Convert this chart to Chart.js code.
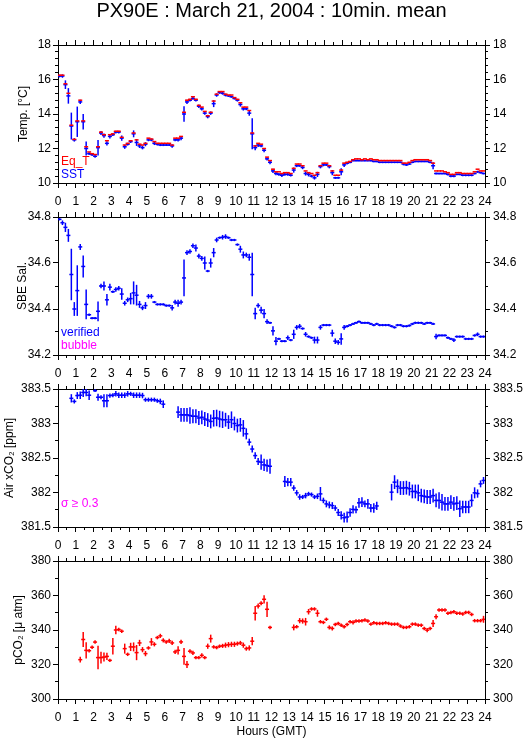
<!DOCTYPE html>
<html>
<head>
<meta charset="utf-8">
<script src="https://cdn.jsdelivr.net/npm/chart.js@4.4.1/dist/chart.umd.min.js"></script>
<style>
  body { margin: 0; background: #fff; width: 529px; height: 739px; overflow: hidden; position: relative; }
  canvas { position: absolute; left: 0; }
</style>
</head>
<body>
<canvas id="p1" width="529" height="208" style="top:0px"></canvas>
<canvas id="p2" width="529" height="178" style="top:202px"></canvas>
<canvas id="p3" width="529" height="178" style="top:374px"></canvas>
<canvas id="p4" width="529" height="193" style="top:546px"></canvas>
<script>
// 10 minute means, one row = one hour (6 samples)
const hours = Array.from({ length: 144 }, (_, i) => (i + 0.5) / 6);

const eqT = [
  16.25,16.25,15.75,15.2,13.35,12.53,  13.6,14.8,13.6,12.1,11.8,11.7,
  11.65,12.1,12.95,12.8,12.45,12.8,    12.85,13.0,13.0,12.65,12.2,12.3,
  12.45,12.9,12.5,12.25,12.2,12.3,     12.6,12.55,12.4,12.3,12.3,12.3,
  12.3,12.3,12.2,12.6,12.6,12.7,       14.1,14.8,14.85,15.0,14.85,14.5,
  14.4,14.15,13.9,14.1,14.75,15.15,    15.3,15.3,15.15,15.1,15.1,14.95,
  14.85,14.65,14.4,14.4,14.2,12.9,     12.15,12.3,12.25,12.0,11.5,11.3,
  10.8,10.65,10.65,10.55,10.6,10.6,    10.55,10.85,11.1,11.1,11.0,10.7,
  10.6,10.55,10.45,10.6,11.0,11.15,    11.15,11.0,10.7,10.45,10.45,10.75,
  11.15,11.2,11.25,11.35,11.4,11.4,    11.35,11.4,11.35,11.4,11.35,11.35,
  11.3,11.3,11.3,11.3,11.3,11.3,       11.3,11.3,11.15,11.15,11.2,11.3,
  11.35,11.35,11.35,11.35,11.35,11.3,  11.15,10.7,10.7,10.7,10.65,10.6,
  10.5,10.5,10.6,10.6,10.55,10.55,     10.55,10.55,10.65,10.8,10.7,10.7
];
const sst = [
  16.2,16.2,15.7,15.05,13.3,12.5,      13.55,14.7,13.55,12.0,11.7,11.65,
  11.55,12.05,12.9,12.75,12.3,12.7,    12.8,12.95,12.95,12.6,12.1,12.25,
  12.4,12.85,12.35,12.15,12.05,12.25,  12.5,12.5,12.3,12.25,12.2,12.2,
  12.2,12.2,12.15,12.5,12.5,12.6,      14.0,14.7,14.8,14.9,14.8,14.45,
  14.3,14.05,13.85,14.05,14.6,15.1,    15.25,15.2,15.1,15.05,15.0,14.9,
  14.8,14.55,14.3,14.3,14.05,12.85,    12.05,12.2,12.15,11.9,11.4,11.2,
  10.7,10.55,10.5,10.45,10.5,10.5,     10.45,10.75,11.0,11.0,10.9,10.55,
  10.5,10.4,10.3,10.5,10.95,11.05,     11.05,10.95,10.6,10.3,10.3,10.65,
  11.05,11.15,11.2,11.3,11.3,11.3,     11.3,11.3,11.3,11.3,11.25,11.25,
  11.2,11.2,11.2,11.2,11.2,11.2,       11.2,11.2,11.1,11.05,11.1,11.2,
  11.25,11.25,11.25,11.25,11.25,11.2,  11.0,10.55,10.55,10.55,10.55,10.5,
  10.4,10.4,10.5,10.5,10.45,10.45,     10.45,10.45,10.55,10.65,10.6,10.55
];
const sstSd = [
  0.08,0.1,0.25,0.45,0.78,0.1,   0.88,0.12,0.45,0.4,0.08,0.08,
  0.08,0.45,0.12,0.12,0.12,0.12, 0.08,0.08,0.08,0.15,0.12,0.08,
  0.08,0.2,0.2,0.12,0.1,0.12,    0.08,0.08,0.1,0.08,0.06,0.06,
  0.06,0.06,0.1,0.08,0.1,0.12,   0.45,0.12,0.08,0.08,0.08,0.1,
  0.1,0.1,0.1,0.1,0.2,0.1,       0.08,0.08,0.08,0.06,0.06,0.06,
  0.08,0.12,0.1,0.08,0.15,0.9,   0.15,0.12,0.08,0.12,0.1,0.12,
  0.12,0.1,0.08,0.1,0.08,0.08,   0.08,0.15,0.08,0.06,0.1,0.12,
  0.12,0.08,0.1,0.15,0.1,0.08,   0.06,0.1,0.15,0.06,0.06,0.2,
  0.12,0.08,0.06,0.06,0.06,0.05, 0.05,0.05,0.05,0.05,0.05,0.05,
  0.05,0.05,0.05,0.05,0.05,0.05, 0.05,0.05,0.08,0.06,0.05,0.05,
  0.05,0.05,0.05,0.05,0.05,0.05, 0.2,0.06,0.05,0.05,0.05,0.06,
  0.06,0.06,0.05,0.05,0.06,0.06, 0.06,0.06,0.05,0.06,0.05,0.05
];

const sal = [
  34.79,34.775,34.755,34.72,34.55,34.40,     34.48,34.67,34.585,34.42,34.375,34.36,
  34.36,34.39,34.50,34.50,34.44,34.495,      34.475,34.485,34.49,34.465,34.425,34.44,
  34.445,34.47,34.46,34.42,34.405,34.415,    34.455,34.455,34.43,34.42,34.42,34.42,
  34.415,34.415,34.405,34.43,34.425,34.43,   34.535,34.645,34.65,34.675,34.665,34.63,
  34.62,34.60,34.565,34.60,34.645,34.70,     34.71,34.712,34.715,34.71,34.70,34.70,
  34.68,34.66,34.635,34.635,34.625,34.55,    34.38,34.415,34.395,34.38,34.345,34.34,
  34.305,34.26,34.27,34.26,34.26,34.275,     34.265,34.29,34.32,34.325,34.315,34.29,
  34.28,34.275,34.265,34.265,34.32,34.33,    34.33,34.33,34.295,34.26,34.255,34.27,
  34.32,34.325,34.33,34.335,34.34,34.345,    34.34,34.34,34.34,34.335,34.33,34.335,
  34.33,34.33,34.33,34.33,34.325,34.32,      34.33,34.33,34.325,34.325,34.328,34.335,
  34.34,34.34,34.34,34.335,34.34,34.34,      34.335,34.28,34.285,34.285,34.285,34.275,
  34.27,34.265,34.28,34.28,34.28,34.27,      34.27,34.27,34.285,34.29,34.28,34.28
];
const salSd = [
  0.005,0.01,0.02,0.028,0.112,0.03,    0.11,0.013,0.048,0.065,0.005,0.005,
  0.005,0.043,0.01,0.02,0.025,0.015,   0.005,0.01,0.01,0.025,0.01,0.01,
  0.025,0.05,0.045,0.015,0.01,0.015,   0.01,0.01,0.005,0.005,0.005,0.005,
  0.005,0.005,0.012,0.01,0.015,0.01,   0.08,0.01,0.01,0.01,0.015,0.01,
  0.01,0.028,0.005,0.02,0.02,0.01,     0.005,0.01,0.01,0.005,0.005,0.005,
  0.005,0.015,0.015,0.01,0.015,0.095,  0.025,0.01,0.015,0.02,0.01,0.005,
  0.02,0.018,0.005,0.005,0.005,0.01,   0.005,0.02,0.01,0.01,0.005,0.01,
  0.005,0.005,0.015,0.015,0.01,0.005,  0.005,0.005,0.015,0.012,0.01,0.025,
  0.01,0.005,0.005,0.005,0.005,0.005,  0.005,0.005,0.005,0.005,0.005,0.005,
  0.005,0.005,0.005,0.005,0.005,0.005, 0.005,0.005,0.005,0.005,0.005,0.005,
  0.005,0.005,0.005,0.005,0.005,0.005, 0.005,0.012,0.005,0.005,0.005,0.005,
  0.005,0.008,0.005,0.005,0.005,0.005, 0.005,0.005,0.005,0.008,0.005,0.005
];

const xco2 = [
  null,null,null,null,383.365,383.32,        383.405,383.41,383.45,383.45,383.41,null,
  383.475,383.38,383.38,383.33,383.33,383.405, 383.41,383.43,383.41,383.41,383.41,383.43,
  383.43,383.41,383.41,383.41,383.405,383.345, 383.345,383.345,383.345,383.33,383.32,383.28,
  null,null,null,null,383.165,383.125,       383.125,383.125,383.115,383.105,383.105,383.08,
  383.09,383.065,383.05,383.03,383.075,383.08, 383.065,383.055,383.055,383.02,383.055,383.0,
  382.97,382.98,382.93,382.85,382.73,382.63, 382.535,382.45,382.44,382.40,382.39,382.38,
  null,null,null,null,382.16,382.15,         382.15,382.065,381.995,381.935,381.935,381.955,
  381.98,381.97,381.935,381.945,381.98,381.885, 381.835,381.82,381.81,381.775,381.71,381.67,
  381.635,381.645,381.71,381.755,381.75,381.85, 381.86,381.835,381.835,381.775,381.775,381.805,
  null,null,null,null,382.005,382.15,        382.09,382.065,382.065,382.07,382.055,382.015,
  382.015,381.995,381.955,381.945,381.935,381.935, 381.955,381.885,381.885,381.86,381.835,381.835,
  381.86,381.835,381.845,381.765,381.79,381.79, 381.79,381.885,381.995,381.985,382.125,382.175
];
const xco2Sd = [
  0,0,0,0,0.06,0.03,           0.05,0.055,0.065,0.055,0.07,0,
  0.02,0.05,0.03,0.095,0.095,0.03, 0.03,0.04,0.04,0.04,0.04,0.04,
  0.03,0.04,0.04,0.04,0.04,0.03,   0.03,0.03,0.03,0.03,0.04,0.055,
  0,0,0,0,0.085,0.1,           0.1,0.1,0.12,0.1,0.1,0.1,
  0.1,0.1,0.1,0.1,0.12,0.12,   0.12,0.12,0.1,0.1,0.12,0.1,
  0.1,0.1,0.12,0.08,0.05,0.05, 0.05,0.05,0.11,0.09,0.09,0.11,
  0,0,0,0,0.08,0.06,           0.06,0.04,0.04,0.04,0.03,0.04,
  0.03,0.03,0.03,0.04,0.1,0.04, 0.05,0.05,0.05,0.04,0.05,0.06,
  0.07,0.08,0.06,0.06,0.05,0.07, 0.07,0.05,0.07,0.06,0.07,0.06,
  0,0,0,0,0.12,0.1,            0.1,0.1,0.1,0.1,0.1,0.1,
  0.1,0.12,0.1,0.1,0.1,0.1,    0.1,0.1,0.12,0.12,0.1,0.1,
  0.1,0.1,0.1,0.12,0.09,0.09,  0.09,0.09,0.08,0.06,0.05,0.05
];

const pco2 = [
  null,null,null,null,null,null,        null,322.8,334.5,328.2,328,330,
  333,324,324,324.3,324.7,322.4,        330.6,340,340.3,339.3,329.2,325.9,
  330.2,330.2,326.9,332.5,328.6,326.3,  329.6,333.1,331.7,335.6,336.6,334,
  333.1,333.7,332.5,327.3,328.2,333.1,  324.7,320,327.7,326.7,324,324,
  325.3,324,330.6,335,330.2,329.8,      330.6,330.8,331.2,331.5,331.7,331.7,
  332.1,332.5,331.2,329.2,329.6,333.5,  349.7,353.9,355.5,357.8,352,341.5,
  null,null,null,null,null,null,        null,341.5,341.9,345.4,345.2,344.8,
  350.6,352.2,352.2,349.7,344.8,344.4,  346.2,341.5,340.9,343.2,343.8,342.8,
  341.9,343.2,344.8,344.4,345.2,345.2,  345.4,345.8,345.2,343.4,344.2,343.8,
  343.8,343.8,344.2,343.8,343.4,343.4,  343.4,342.3,341.5,341.5,341.9,343.4,
  343.4,342.8,342.8,340.9,339.9,340.9,  343.8,347.7,351.6,351.6,351.6,349.7,
  350.1,350.6,349.7,349.7,349.3,350.2,  350.2,349,345.4,345.4,345.4,346.2
];
const pco2Sd = [
  0,0,0,0,0,0,             0,1.7,4.4,4.7,1,1,
  1,6.8,3.4,2.6,2.1,1,     4.8,2.4,1,1,2.9,1,
  2.4,2.6,4.4,1.8,1.5,1.5, 1,2.2,1.2,1,1.2,1.2,
  1,1.2,1.2,1.2,2.4,1.2,   4.9,2,1.2,1.2,1,1,
  1.2,1,1.5,2.3,1,1,       1,1.2,1.5,1.5,1.5,1.5,
  1.2,1.2,1.5,1.2,1.5,2.4, 4.2,1.5,1.2,2.4,4.4,1,
  0,0,0,0,0,0,             0,1.7,1,1.5,1.5,2.2,
  1.6,1,1,2,1,1,           1,1.2,1.2,1,1,1,
  1,1,1,1.2,1,1,           1,1,1,1,1,1,
  1,1,1,1,1,1,             1,1,1,1,1,1,
  1,1,1,1,1.2,1,           2,1.5,1,1,1,1,
  1,1,1,1,1,1,             1,1,1,1,1,2
];

const RED = '#ff0000', BLUE = '#0000ff', MAGENTA = '#ff00ff';
const FAMILY = '"Liberation Sans", Arial, Helvetica, sans-serif';
const FONT = { family: FAMILY, size: 12 };

// each sample: short horizontal bar + vertical bar of +/- sd
function marks(vals, sd, color) {
  const data = vals.map((v, i) => ({ x: hours[i], y: v, e: sd ? sd[i] : 0 }));
  const sets = [{
    data, xAxisID: 'x', yAxisID: 'y',
    pointStyle: 'line', pointRadius: 2, pointRotation: 0,
    pointBorderWidth: 1.5, pointBorderColor: color, pointBackgroundColor: color
  }];
  if (sd) sets.push({
    data, xAxisID: 'x', yAxisID: 'y',
    pointStyle: 'line', pointRotation: 90,
    pointBorderWidth: 1.5, pointBorderColor: color, pointBackgroundColor: color,
    pointRadius: c => {
      const p = c.raw;
      if (!p || p.y == null || !p.e) return 0;
      const s = c.chart.scales.y;
      return Math.abs(s.getPixelForValue(p.y + p.e) - s.getPixelForValue(p.y));
    }
  });
  return sets;
}

function scale(axis, position, min, max, step, len, weight, size, opt) {
  opt = opt || {};
  return {
    type: 'linear', axis, position, min, max, weight,
    ticks: {
      stepSize: step, display: !!opt.labels, padding: opt.pad || 0, autoSkip: false,
      maxRotation: 0, minRotation: 0, font: FONT, color: '#000',
      callback: v => String(+v.toFixed(3))
    },
    grid: { drawOnChartArea: false, drawTicks: true, tickLength: len, color: '#000', lineWidth: 1 },
    border: { display: !!opt.border, color: '#000', width: 1 },
    title: opt.title
      ? { display: true, text: opt.title, font: FONT, color: '#000', padding: opt.titlePad }
      : { display: false },
    afterFit: s => { if (axis === 'x') s.height = size; else s.width = size; }
  };
}

const notes = {
  id: 'notes',
  afterDraw(chart, args, opts) {
    const ctx = chart.ctx, a = chart.chartArea;
    (opts.items || []).forEach(n => {
      ctx.save();
      ctx.font = (n.size || 12) + 'px ' + FAMILY;
      ctx.fillStyle = n.color || '#000';
      ctx.textAlign = n.align || 'left';
      ctx.textBaseline = 'alphabetic';
      const x = n.center ? (a.left + a.right) / 2 : a.left + n.dx;
      const y = n.top != null ? n.top : a.bottom - n.dy;
      ctx.fillText(n.text, x, y);
      ctx.restore();
    });
  }
};

function panel(id, p) {
  const scales = {
    x:   scale('x', 'bottom', 0, 24, 1, 5, 1, p.botH, { labels: true, pad: 6, border: true, title: p.xTitle, titlePad: { top: 0, bottom: 0 } }),
    xm:  scale('x', 'bottom', 0, 24, 0.5, 3, 0, 0),
    xt:  scale('x', 'top', 0, 24, 1, 5, 1, p.topH, { border: true }),
    xtm: scale('x', 'top', 0, 24, 0.5, 3, 0, 0),
    y:   scale('y', 'left', p.min, p.max, p.major, 5, 1, 58, { labels: true, pad: 2, border: true, title: p.yTitle, titlePad: { top: p.titleX - 7.2, bottom: 0 } }),
    ym:  scale('y', 'left', p.min, p.max, p.minor, 3, 0, 0),
    yr:  scale('y', 'right', p.min, p.max, p.major, 5, 1, 44, { labels: true, pad: 3, border: true }),
    yrm: scale('y', 'right', p.min, p.max, p.minor, 3, 0, 0)
  };
  return new Chart(document.getElementById(id), {
    type: 'scatter',
    data: { datasets: p.sets },
    options: {
      responsive: false, animation: false, events: [],
      layout: { padding: 0 },
      plugins: { legend: { display: false }, tooltip: { enabled: false }, notes: { items: p.notes } },
      scales
    },
    plugins: [notes]
  });
}

panel('p1', {
  min: 10, max: 18, major: 2, minor: 0.4, topH: 45, botH: 25,
  yTitle: 'Temp. [°C]', titleX: 24,
  sets: [...marks(eqT, null, RED), ...marks(sst, sstSd, BLUE)],
  notes: [
    { text: 'PX90E : March 21, 2004 : 10min. mean', center: true, top: 17, size: 20, align: 'center' },
    { text: 'Eq_T', dx: 3, dy: 18, color: RED },
    { text: 'SST', dx: 3, dy: 5, color: BLUE }
  ]
});

panel('p2', {
  min: 34.2, max: 34.8, major: 0.2, minor: 0.1, topH: 15, botH: 25,
  yTitle: 'SBE Sal.', titleX: 22.5,
  sets: marks(sal, salSd, BLUE),
  notes: [
    { text: 'verified', dx: 3, dy: 19, color: BLUE },
    { text: 'bubble', dx: 3, dy: 6, color: MAGENTA }
  ]
});

panel('p3', {
  min: 381.5, max: 383.5, major: 0.5, minor: 0.25, topH: 15, botH: 25,
  yTitle: 'Air xCO₂ [ppm]', titleX: 10,
  sets: marks(xco2, xco2Sd, BLUE),
  notes: [
    { text: 'σ ≥ 0.3', dx: 3, dy: 20, color: MAGENTA }
  ]
});

panel('p4', {
  min: 300, max: 380, major: 20, minor: 10, topH: 15, botH: 40,
  yTitle: 'pCO₂ [μ atm]', titleX: 19, xTitle: 'Hours (GMT)',
  sets: marks(pco2, pco2Sd, RED),
  notes: []
});
</script>
</body>
</html>
